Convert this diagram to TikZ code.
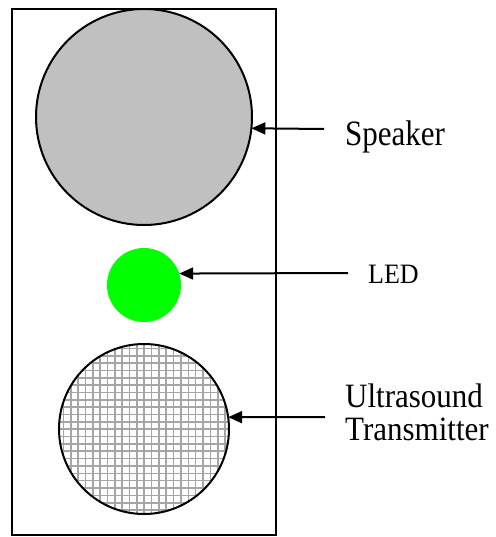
\documentclass[tikz,border=0pt]{standalone}
\usepackage{fontspec}
\setmainfont{Liberation Serif}
\usetikzlibrary{arrows.meta}
\tikzset{
  frame/.style={draw=black, line width=2pt},
  speaker/.style={circle, draw=black, line width=2pt, fill={rgb,255:red,192;green,192;blue,192}, inner sep=0pt, outer sep=0pt, minimum size=216pt},
  ledc/.style={circle, fill={rgb,255:red,0;green,255;blue,0}, inner sep=0pt, outer sep=0pt, minimum size=74pt},
  usc/.style={circle, draw=black, line width=2pt, inner sep=0pt, outer sep=0pt, minimum size=170pt},
  arr/.style={line width=2pt, -{Triangle[length=14pt,width=12pt]}},
  gridline/.style={line width=1.6pt, draw={rgb,255:red,165;green,165;blue,165}},
  lbl/.style={anchor=base west, inner sep=0pt, font=\fontsize{31}{33}\selectfont},
  lbls/.style={anchor=base west, inner sep=0pt, font=\fontsize{26}{28}\selectfont},
}
\begin{document}
\begin{tikzpicture}[x=1pt,y=-1pt]
\useasboundingbox (0,0) rectangle (495,537);
\draw[frame] (12,9) rectangle (276,535);
\node[speaker] (spk) at (144,117) {};
\node[ledc] (led) at (144,285) {};
% ultrasound transmitter with grid
\begin{scope}
  \clip (144,429) circle (85);
  \fill[white] (59,344) rectangle (229,514);
  \foreach \i in {0,...,24} {
    \draw[gridline] (56+\i*7.35,340) -- (56+\i*7.35,518);
    \draw[gridline] (55,341+\i*7.35) -- (233,341+\i*7.35);
  }
\end{scope}
\node[usc] (us) at (144,429) {};
\coordinate (spkA) at (324,129);
\coordinate (ledA) at (348,273);
\coordinate (usA) at (325,417);
\draw[arr] (spkA) -- (spk.-6.4);
\draw[arr] (ledA) -- (led.18.9);
\draw[arr] (usA) -- (us.8.1);
\node[lbl] (tspk) at (345,146) {\scalebox{1}[1.15]{Speaker}};
\node[lbls] (tled) at (368,283) {\scalebox{1}[1.08]{LED}};
\node[lbl, align=left] (tus) at (345,440) {\scalebox{1}[1.1]{Ultrasound}\\\scalebox{1}[1.1]{Transmitter}};
\end{tikzpicture}
\end{document}
